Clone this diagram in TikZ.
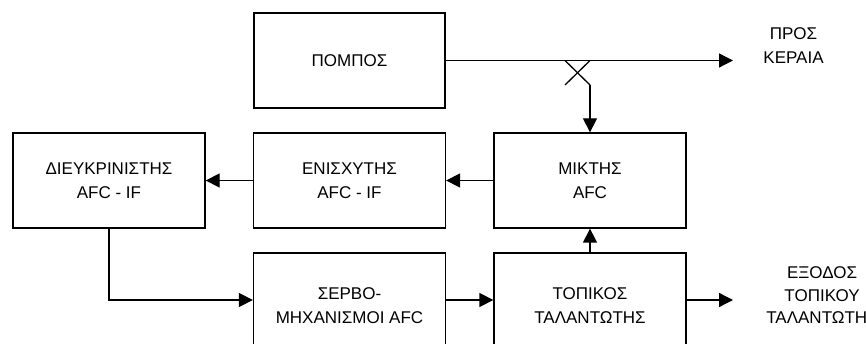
\documentclass[tikz,border=0pt]{standalone}
\usepackage{fontspec}
\setmainfont{Liberation Sans}
\usetikzlibrary{arrows.meta}
\begin{document}
\begin{tikzpicture}[x=1pt,y=-1pt,
  blk/.style={draw, line width=1.3pt, minimum width=192pt, minimum height=95pt, inner sep=0pt, align=center, font=\fontsize{17}{24.5}\selectfont},
  lbl/.style={inner sep=0pt, align=center, font=\fontsize{17}{24.5}\selectfont},
  conn/.style={line width=1.3pt, -{Triangle[length=14pt,width=14pt]}},
  wire/.style={line width=1.3pt}]
\useasboundingbox (0,0) rectangle (866,344);
\node[blk, minimum width=191pt] (tx) at (349.5,60.5) {ΠΟΜΠΟΣ};
\node[blk] (mix) at (590,180.5) {ΜΙΚΤΗΣ\\AFC};
\node[blk] (amp) at (349.5,180.5) {ΕΝΙΣΧΥΤΗΣ\\AFC - IF};
\node[blk] (disc) at (109,180.5) {ΔΙΕΥΚΡΙΝΙΣΤΗΣ\\AFC - IF};
\node[blk, minimum height=105pt] (servo) at (349.5,305.5) {ΣΕΡΒΟ-\\ΜΗΧΑΝΙΣΜΟΙ AFC};
\node[blk, minimum height=105pt] (lo) at (590,305.5) {ΤΟΠΙΚΟΣ\\ΤΑΛΑΝΤΩΤΗΣ};
\node[lbl] (ant) at (793.5,45.5) {ΠΡΟΣ\\ΚΕΡΑΙΑ};
\node[lbl, font=\fontsize{17}{22.5}\selectfont] (out) at (822,295.5) {ΕΞΟΔΟΣ\\ΤΟΠΙΚΟΥ\\ΤΑΛΑΝΤΩΤΗΣ};
\coordinate (antend) at (733,60.5);
\coordinate (outend) at (733,300);
\coordinate (xa) at (565,60.5);
\coordinate (xb) at (590,60.5);
\coordinate (xc) at (565,85);
\coordinate (xd) at (590,85);
\draw[conn] (tx.east |- antend) -- (antend);
\draw[wire] (xa) -- (xd);
\draw[wire] (xb) -- (xc);
\draw[conn] (xd) -- (mix.north -| xd);
\draw[conn] (mix.west) -- (amp.east);
\draw[conn] (amp.west) -- (disc.east);
\draw[conn] (disc.south) |- (servo.west |- outend);
\draw[conn] (servo.east |- outend) -- (lo.west |- outend);
\draw[conn] (lo.east |- outend) -- (outend);
\draw[conn] (lo.north) -- (mix.south);
\end{tikzpicture}
\end{document}
